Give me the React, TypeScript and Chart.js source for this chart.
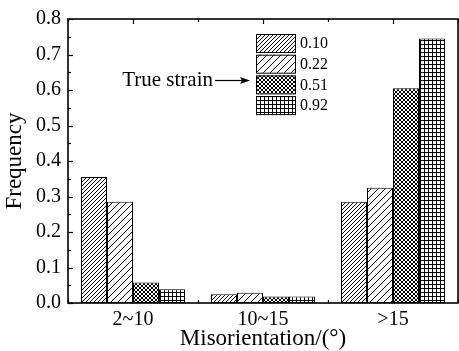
import React, { useEffect, useRef } from "react";
import { Chart, registerables } from "chart.js";

Chart.register(...registerables);

const categories = ["2~10", "10~15", ">15"];
const legendLabels = ["0.10", "0.22", "0.51", "0.92"];
const strain010 = [0.355, 0.025, 0.285];
const strain022 = [0.285, 0.029, 0.325];
const strain051 = [0.058, 0.018, 0.605];
const strain092 = [0.039, 0.018, 0.745];
const yMin = 0;
const yMax = 0.8;
const yStep = 0.1;
const annotationText = "True strain";
const xTitle = "Misorientation/(\u00b0)";
const yTitle = "Frequency";

const FONT = "'Liberation Serif', 'Times New Roman', serif";

function makePattern(kind: number): CanvasPattern | string {
  const c = document.createElement("canvas");
  let n = 4;
  if (kind === 1) n = 7;
  c.width = n;
  c.height = n;
  const g = c.getContext("2d")!;
  g.fillStyle = "#fff";
  g.fillRect(0, 0, n, n);
  g.strokeStyle = "#000";
  g.lineWidth = 1;
  const diag = (dir: number) => {
    g.beginPath();
    for (let k = -1; k <= 1; k++) {
      if (dir > 0) {
        g.moveTo(k * n, n);
        g.lineTo(k * n + n, 0);
      } else {
        g.moveTo(k * n, 0);
        g.lineTo(k * n + n, n);
      }
    }
    g.stroke();
  };
  if (kind === 0 || kind === 1) diag(1);
  if (kind === 2) {
    diag(1);
    diag(-1);
  }
  if (kind === 3) {
    g.fillStyle = "#000";
    g.fillRect(0, 0, 1, n);
    g.fillRect(0, 0, n, 1);
  }
  const p = g.createPattern(c, "repeat");
  return p || "#888";
}

export default function App() {
  const ref = useRef<HTMLCanvasElement>(null);
  useEffect(() => {
    document.body.style.margin = "0";
    const canvas = ref.current!;
    const patterns = [0, 1, 2, 3].map(makePattern);
    const series = [strain010, strain022, strain051, strain092];

    const decorPlugin = {
      id: "decor",
      afterDraw(chart: any) {
        const ctx = chart.ctx as CanvasRenderingContext2D;
        const a = chart.chartArea;
        const ys = chart.scales.y;
        const xs = chart.scales.x;
        ctx.save();
        ctx.strokeStyle = "#000";
        ctx.lineWidth = 1.6;
        ctx.strokeRect(a.left, a.top, a.right - a.left, a.bottom - a.top);
        ctx.lineWidth = 1.2;
        for (let v = yMin; v <= yMax + 1e-9; v += yStep / 2) {
          const y = Math.round(ys.getPixelForValue(v)) + 0.5;
          const major = Math.abs(Math.round(v / yStep) * yStep - v) < 1e-6;
          const len = major ? 5 : 3;
          ctx.beginPath();
          ctx.moveTo(a.left, y);
          ctx.lineTo(a.left + len, y);
          ctx.stroke();
        }
        for (let i = -0.5; i <= categories.length - 0.5; i += 0.5) {
          const x = Math.round(xs.getPixelForValue(i)) + 0.5;
          const center = Number.isInteger(i);
          const len = center ? 5 : 3;
          ctx.beginPath();
          ctx.moveTo(x, a.bottom);
          ctx.lineTo(x, a.bottom - len);
          ctx.moveTo(x, a.top);
          ctx.lineTo(x, a.top + len);
          ctx.stroke();
        }
        // legend
        const bx = 256;
        const bw = 39;
        const bh = 18;
        const pitch = 20.7;
        const by0 = 34;
        ctx.font = "16px " + FONT;
        ctx.textBaseline = "middle";
        ctx.textAlign = "left";
        for (let i = 0; i < legendLabels.length; i++) {
          const y = by0 + i * pitch;
          ctx.fillStyle = patterns[i] as any;
          ctx.fillRect(bx, y, bw, bh);
          ctx.lineWidth = 1;
          ctx.strokeStyle = "#000";
          ctx.strokeRect(bx + 0.5, y + 0.5, bw, bh);
          ctx.fillStyle = "#000";
          ctx.fillText(legendLabels[i], bx + bw + 5, y + bh / 2 + 1);
        }
        // annotation
        ctx.font = "21px " + FONT;
        ctx.textAlign = "right";
        ctx.fillText(annotationText, 213, 80);
        ctx.beginPath();
        ctx.lineWidth = 1.2;
        ctx.moveTo(215, 80.5);
        ctx.lineTo(242, 80.5);
        ctx.stroke();
        ctx.beginPath();
        ctx.moveTo(250, 80.5);
        ctx.lineTo(240, 77);
        ctx.lineTo(242, 80.5);
        ctx.lineTo(240, 84);
        ctx.closePath();
        ctx.fillStyle = "#000";
        ctx.fill();
        ctx.restore();
      },
    };

    const chart = new Chart(canvas, {
      type: "bar",
      data: {
        labels: categories,
        datasets: series.map((d, i) => ({
          label: legendLabels[i],
          data: d,
          backgroundColor: patterns[i] as any,
          borderColor: "#000",
          borderWidth: 1,
          borderSkipped: false,
          categoryPercentage: 0.8,
          barPercentage: 1.0,
        })),
      },
      options: {
        animation: false,
        responsive: false,
        devicePixelRatio: 1,
        layout: { padding: { top: 19, right: 1, left: 0, bottom: 0 } },
        plugins: {
          legend: { display: false },
          tooltip: { enabled: false },
        },
        scales: {
          x: {
            grid: { display: false, drawTicks: false },
            border: { display: false },
            ticks: {
              color: "#000",
              font: { family: FONT, size: 20 },
              padding: 5,
            },
            title: {
              display: true,
              text: xTitle,
              color: "#000",
              font: { family: FONT, size: 23 },
              padding: { top: 0, bottom: -2 },
            },
            afterFit(scale: any) {
              scale.height = 48;
            },
          },
          y: {
            min: yMin,
            max: yMax,
            grid: { display: false, drawTicks: false },
            border: { display: false },
            ticks: {
              stepSize: yStep,
              color: "#000",
              font: { family: FONT, size: 20 },
              padding: 7,
              callback: (v: any) => Number(v).toFixed(1),
            },
            title: {
              display: true,
              text: yTitle,
              color: "#000",
              font: { family: FONT, size: 23 },
              padding: { top: 1, bottom: 0 },
            },
            afterFit(scale: any) {
              scale.width = 68;
            },
          },
        },
      },
      plugins: [decorPlugin],
    });
    return () => chart.destroy();
  }, []);
  return (
    <div style={{ width: 459, height: 351, background: "#fff" }}>
      <canvas ref={ref} width={459} height={351} />
    </div>
  );
}
